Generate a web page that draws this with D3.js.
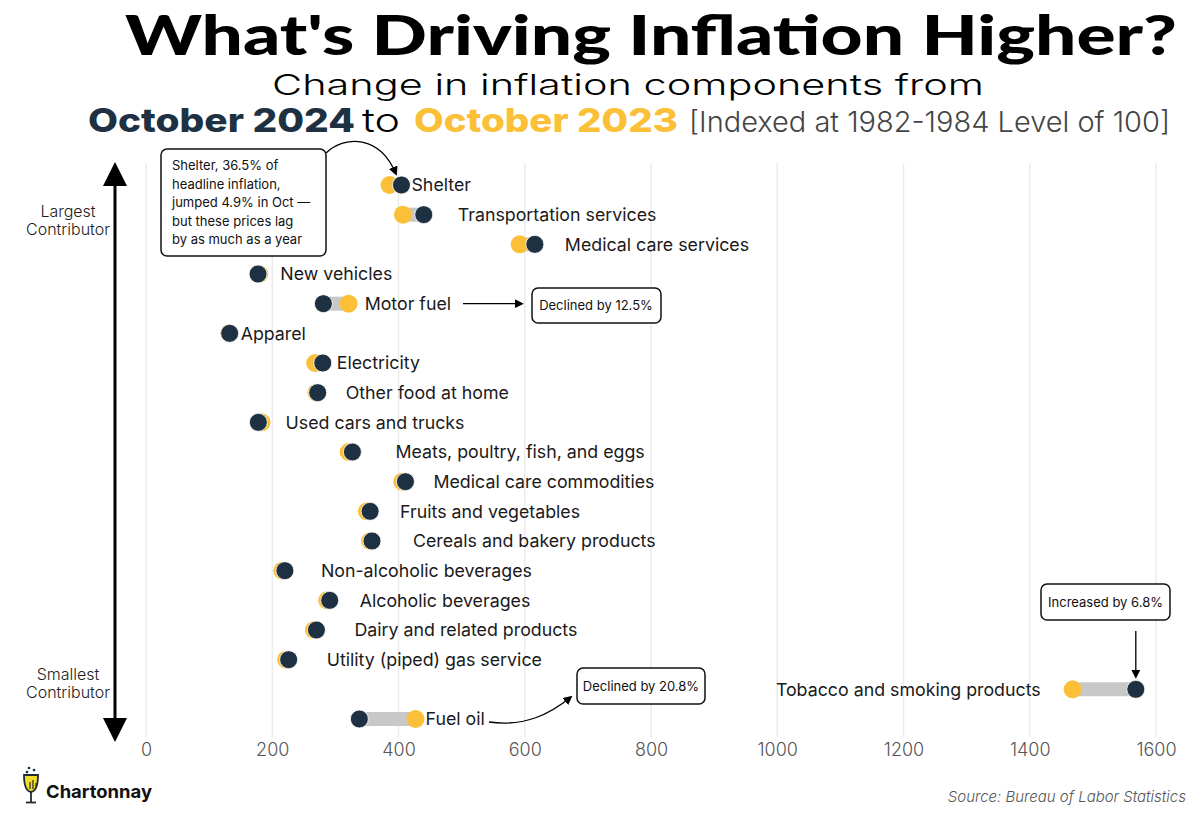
<!DOCTYPE html>
<html>
<head>
<meta charset="utf-8">
<script src="https://cdn.jsdelivr.net/npm/d3@7"></script>
<style>
  html, body { margin: 0; padding: 0; background: #fff; }
  svg { display: block; }
</style>
</head>
<body>
<div id="chart"></div>
<script>
// ---------- DATA ----------
const categories = [
  "Shelter", "Transportation services", "Medical care services", "New vehicles",
  "Motor fuel", "Apparel", "Electricity", "Other food at home", "Used cars and trucks",
  "Meats, poultry, fish, and eggs", "Medical care commodities", "Fruits and vegetables",
  "Cereals and bakery products", "Non-alcoholic beverages", "Alcoholic beverages",
  "Dairy and related products", "Utility (piped) gas service",
  "Tobacco and smoking products", "Fuel oil"
];
const oct2024 = [404.7, 440, 616, 177.5, 281, 132.5, 280, 272, 178, 327, 411, 355, 358, 220, 291, 270, 226, 1568, 338];
const oct2023 = [385.8, 407, 592, 179.5, 321, 132, 268, 270, 183, 321, 406, 350, 355, 216, 287, 266, 222, 1468, 427];
const xTicks = [0, 200, 400, 600, 800, 1000, 1200, 1400, 1600];
const annotations = ["Declined by 12.5%", "Declined by 20.8%", "Increased by 6.8%"];
const shelterNote = ["Shelter, 36.5% of", "headline inflation,", "jumped 4.9% in Oct \u2014", "but these prices lag", "by as much as a year"];

// label layout (pixel gap of label start from the rightmost dot edge; negative = end-anchored left of leftmost dot)
const labelGap = [1, 25, 21, 12, 7, 2, 5, 19, 15, 34, 19, 21, 32, 27, 21, 29, 29, -32, 1];

// ---------- LAYOUT ----------
const W = 1200, H = 819;
const NAVY = "#1e3142", YELLOW = "#fbbf38", GRAY = "#c8c8c8";
const svg = d3.select("#chart").append("svg").attr("width", W).attr("height", H);

const x = d3.scaleLinear().domain([0, 1600]).range([146, 1156]);
const y = d3.scalePoint().domain(categories).range([185, 719]);
const r = 9;

// ---------- TITLES ----------
svg.append("text").attr("x", 125).attr("y", 55)
  .attr("textLength", 1052).attr("lengthAdjust", "spacingAndGlyphs")
  .style("font-family", "Lato, 'Open Sans', sans-serif").style("font-weight", 900)
  .style("font-size", "55px").attr("fill", "#000")
  .text("What's Driving Inflation Higher?");

svg.append("text").attr("x", 628).attr("y", 95).attr("text-anchor", "middle")
  .attr("textLength", 712).attr("lengthAdjust", "spacingAndGlyphs")
  .style("font-family", "Inter, 'Open Sans', sans-serif").style("font-weight", 300)
  .style("font-size", "29px").attr("fill", "#000")
  .text("Change in inflation components from");

const l3 = [
  { t: "October 2024", x0: 88, len: 267, w: 800, c: NAVY, s: 33 },
  { t: "to", x0: 362, len: 38, w: 300, c: "#000", s: 33 },
  { t: "October 2023", x0: 414, len: 264, w: 800, c: YELLOW, s: 33 },
  { t: "[Indexed at 1982-1984 Level of 100]", x0: 689, len: 481, w: 300, c: "#444", s: 28 }
];
l3.forEach(p => svg.append("text").attr("x", p.x0).attr("y", 132)
  .attr("textLength", p.len).attr("lengthAdjust", "spacingAndGlyphs")
  .style("font-family", "Inter, 'Open Sans', sans-serif").style("font-weight", p.w)
  .style("font-size", p.s + "px").attr("fill", p.c).text(p.t));

// ---------- GRID + AXIS ----------
const grid = svg.append("g");
grid.selectAll("line").data(xTicks).join("line")
  .attr("x1", d => x(d)).attr("x2", d => x(d))
  .attr("y1", 163).attr("y2", 737)
  .attr("stroke", "#ebebeb").attr("stroke-width", 1.5);

const axis = svg.append("g").attr("transform", "translate(0,737)")
  .call(d3.axisBottom(x).tickValues(xTicks).tickSize(0).tickPadding(6).tickFormat(d3.format("d")));
axis.select(".domain").remove();
axis.selectAll("text").style("font-family", "Inter, sans-serif").style("font-size", "18px")
  .style("font-weight", 300).attr("fill", "#555");

// ---------- LEFT ARROW ----------
const defs = svg.append("defs");
defs.append("marker").attr("id", "ah").attr("viewBox", "0 0 10 10").attr("refX", 5).attr("refY", 5)
  .attr("markerWidth", 8).attr("markerHeight", 8).attr("orient", "auto-start-reverse")
  .append("path").attr("d", "M0,0 L10,5 L0,10 z").attr("fill", "#000");
defs.append("marker").attr("id", "ahs").attr("viewBox", "0 0 10 10").attr("refX", 8).attr("refY", 5)
  .attr("markerWidth", 7).attr("markerHeight", 7).attr("orient", "auto")
  .append("path").attr("d", "M0,0 L10,5 L0,10 z").attr("fill", "#000");

svg.append("line").attr("x1", 115).attr("x2", 115).attr("y1", 174).attr("y2", 730)
  .attr("stroke", "#000").attr("stroke-width", 3)
  .attr("marker-start", "url(#ah)").attr("marker-end", "url(#ah)");

const sideLbl = svg.append("g").style("font-family", "Inter, sans-serif").style("font-size", "16px")
  .style("font-weight", 300).attr("fill", "#222").attr("text-anchor", "middle");
[["Largest", 217], ["Contributor", 235], ["Smallest", 680], ["Contributor", 698]].forEach(([t, yy]) =>
  sideLbl.append("text").attr("x", 68).attr("y", yy).text(t));

// ---------- DUMBBELLS ----------
const rows = categories.map((c, i) => ({ c, a: oct2023[i], b: oct2024[i], gap: labelGap[i] }));
const g = svg.append("g");
g.selectAll("line.bar").data(rows).join("line").attr("class", "bar")
  .attr("x1", d => x(d.a)).attr("x2", d => x(d.b))
  .attr("y1", d => y(d.c)).attr("y2", d => y(d.c))
  .attr("stroke", GRAY).attr("stroke-width", 14);
g.selectAll("circle.y23").data(rows).join("circle").attr("class", "y23")
  .attr("cx", d => x(d.a)).attr("cy", d => y(d.c)).attr("r", r).attr("fill", YELLOW);
g.selectAll("circle.y24").data(rows).join("circle").attr("class", "y24")
  .attr("cx", d => x(d.b)).attr("cy", d => y(d.c)).attr("r", r).attr("fill", NAVY)
  .attr("stroke", "#fff").attr("stroke-width", 0.8);
g.selectAll("text.lbl").data(rows).join("text").attr("class", "lbl")
  .attr("x", d => d.gap < 0 ? x(Math.min(d.a, d.b)) + d.gap : x(Math.max(d.a, d.b)) + r + d.gap)
  .attr("y", d => y(d.c)).attr("dy", "0.35em")
  .attr("text-anchor", d => d.gap < 0 ? "end" : "start")
  .style("font-family", "Inter, sans-serif").style("font-size", "17.8px").style("font-weight", 400)
  .attr("fill", "#1a1a1a").text(d => d.c);

// ---------- ANNOTATIONS ----------
function box(x0, y0, w, h) {
  svg.append("rect").attr("x", x0).attr("y", y0).attr("width", w).attr("height", h)
    .attr("rx", 6).attr("fill", "#fff").attr("stroke", "#111").attr("stroke-width", 1.5);
}
const noteFont = sel => sel.style("font-family", "Inter, sans-serif").attr("fill", "#111");

// Shelter note
box(161, 149, 165, 107);
shelterNote.forEach((t, i) => noteFont(svg.append("text")).attr("x", 172).attr("y", 170 + i * 18.6)
  .style("font-size", "13px").text(t));
svg.append("path").attr("d", "M326,153 C345,135 380,135 396,174")
  .attr("fill", "none").attr("stroke", "#000").attr("stroke-width", 1.3).attr("marker-end", "url(#ahs)");

// Motor fuel note
const yMF = y("Motor fuel");
svg.append("line").attr("x1", 463).attr("x2", 522).attr("y1", yMF).attr("y2", yMF)
  .attr("stroke", "#000").attr("stroke-width", 1.3).attr("marker-end", "url(#ahs)");
box(532, 288, 129, 35);
noteFont(svg.append("text")).attr("x", 596).attr("y", 305.5).attr("dy", "0.35em").attr("text-anchor", "middle")
  .style("font-size", "13px").text(annotations[0]);

// Fuel oil note
const yFO = y("Fuel oil");
svg.append("path").attr("d", `M489,${yFO + 3} C525,${yFO + 8} 550,${yFO - 5} 571,${yFO - 22}`)
  .attr("fill", "none").attr("stroke", "#000").attr("stroke-width", 1.3).attr("marker-end", "url(#ahs)");
box(577, 668, 128, 36);
noteFont(svg.append("text")).attr("x", 641).attr("y", 686).attr("dy", "0.35em").attr("text-anchor", "middle")
  .style("font-size", "13px").text(annotations[1]);

// Tobacco note
box(1041, 584, 129, 36);
noteFont(svg.append("text")).attr("x", 1105.5).attr("y", 602).attr("dy", "0.35em").attr("text-anchor", "middle")
  .style("font-size", "13px").text(annotations[2]);
svg.append("line").attr("x1", x(oct2024[17])).attr("x2", x(oct2024[17])).attr("y1", 631).attr("y2", 677)
  .attr("stroke", "#000").attr("stroke-width", 1.3).attr("marker-end", "url(#ahs)");

// ---------- FOOTER ----------
svg.append("text").attr("x", 1186).attr("y", 802).attr("text-anchor", "end")
  .style("font-family", "Inter, sans-serif").style("font-style", "italic").style("font-weight", 300)
  .style("font-size", "15px").attr("fill", "#555").text("Source: Bureau of Labor Statistics");

// logo
const logo = svg.append("g").attr("transform", "translate(22,765)");
logo.append("path").attr("d", "M2,10 Q2,26 9,27 Q16,26 16,10 Z").attr("fill", "#f2dc2a").attr("stroke", "#1e2a36").attr("stroke-width", 1.8);
logo.append("line").attr("x1", 9).attr("x2", 9).attr("y1", 27).attr("y2", 37).attr("stroke", "#1e2a36").attr("stroke-width", 1.8);
logo.append("line").attr("x1", 4).attr("x2", 14).attr("y1", 37.5).attr("y2", 37.5).attr("stroke", "#1e2a36").attr("stroke-width", 1.8);
[[7, 3], [12, 5], [5, 7]].forEach(([cx, cy]) => logo.append("circle").attr("cx", cx).attr("cy", cy).attr("r", 1.3).attr("fill", "#1e2a36"));
[[8, 17, 24], [11, 15, 24], [14, 18, 22]].forEach(([lx, y1, y2]) => logo.append("line").attr("x1", lx).attr("x2", lx).attr("y1", y1).attr("y2", y2).attr("stroke", "#1e2a36").attr("stroke-width", 1.2));
svg.append("text").attr("x", 46).attr("y", 798)
  .attr("textLength", 106).attr("lengthAdjust", "spacingAndGlyphs")
  .style("font-family", "Inter, sans-serif").style("font-weight", 700).style("font-size", "18px")
  .attr("fill", "#111").text("Chartonnay");
</script>
</body>
</html>
